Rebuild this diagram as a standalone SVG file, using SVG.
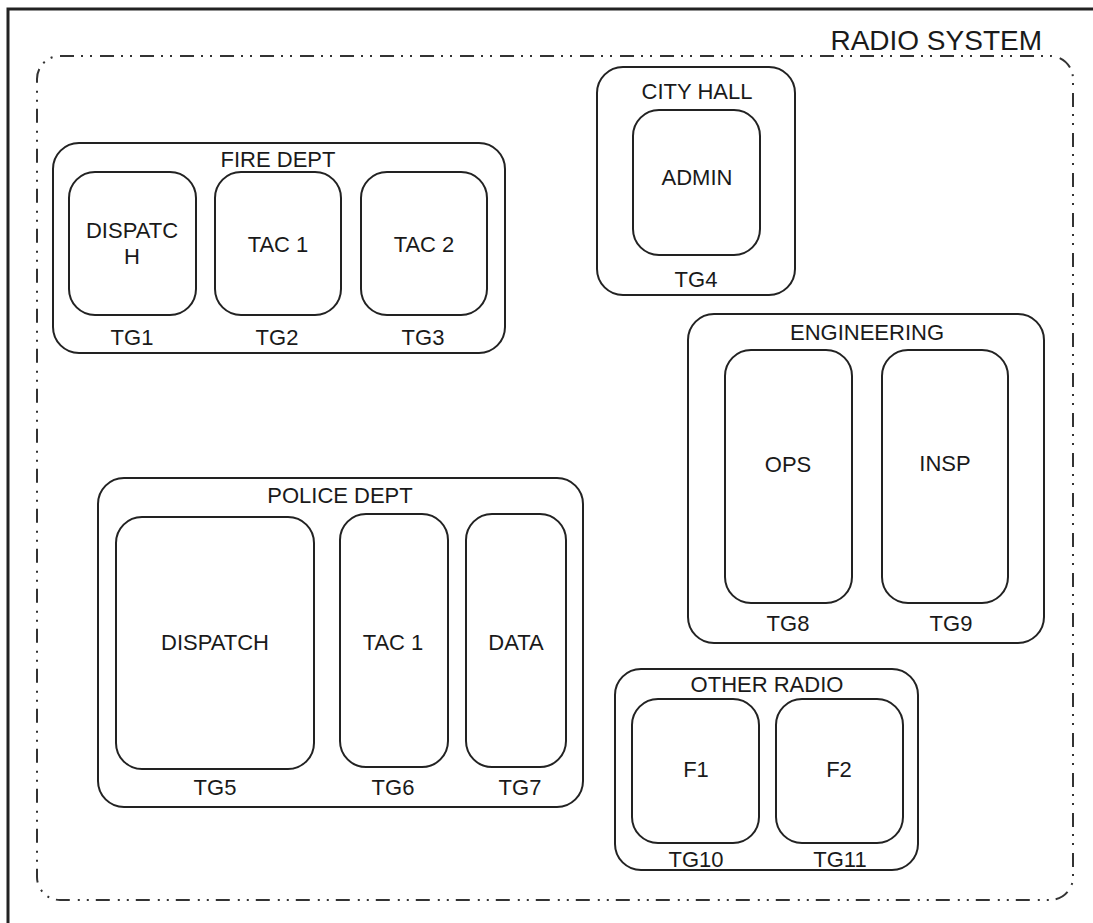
<svg xmlns="http://www.w3.org/2000/svg" width="1093" height="923" viewBox="0 0 1093 923">
<style>
.box{fill:none;stroke:#222;stroke-width:2}
.t{font-family:"Liberation Sans",Arial,sans-serif;font-size:22px;fill:#1a1a1a;text-anchor:middle}
.title{font-family:"Liberation Sans",Arial,sans-serif;font-size:28px;fill:#1a1a1a;text-anchor:end}
.sys{fill:none;stroke:#333;stroke-width:2;stroke-dasharray:14 7 2 7 2 8}
</style>
<rect width="1093" height="923" fill="#fff"/>
<path d="M8 923 V9 H1093" fill="none" stroke="#222" stroke-width="3"/>
<g id="radio-system">
<rect class="sys" x="37" y="56" width="1036" height="844" rx="23"/>
<text class="title" x="1042" y="50">RADIO SYSTEM</text>
</g>
<g id="fire-dept">
<rect class="box" x="53" y="143" width="452" height="210" rx="26"/>
<text class="t" x="278" y="167">FIRE DEPT</text>
</g>
<g id="tg1">
<rect class="box" x="69" y="172" width="127" height="143" rx="26"/>
<text class="t" x="132" y="238">DISPATC</text>
<text class="t" x="132" y="264">H</text>
<text class="t" x="132" y="345">TG1</text>
</g>
<g id="tg2">
<rect class="box" x="215" y="172" width="126" height="143" rx="26"/>
<text class="t" x="278" y="252">TAC 1</text>
<text class="t" x="277" y="345">TG2</text>
</g>
<g id="tg3">
<rect class="box" x="361" y="172" width="126" height="143" rx="26"/>
<text class="t" x="424" y="252">TAC 2</text>
<text class="t" x="423" y="345">TG3</text>
</g>
<g id="city-hall">
<rect class="box" x="597" y="67" width="198" height="228" rx="26"/>
<text class="t" x="697" y="99">CITY HALL</text>
</g>
<g id="tg4">
<rect class="box" x="633" y="110" width="127" height="145" rx="26"/>
<text class="t" x="697" y="185">ADMIN</text>
<text class="t" x="696" y="287">TG4</text>
</g>
<g id="engineering">
<rect class="box" x="688" y="314" width="356" height="329" rx="26"/>
<text class="t" x="867" y="340">ENGINEERING</text>
</g>
<g id="tg8">
<rect class="box" x="725" y="350" width="127" height="253" rx="26"/>
<text class="t" x="788" y="472">OPS</text>
<text class="t" x="788" y="631">TG8</text>
</g>
<g id="tg9">
<rect class="box" x="882" y="350" width="126" height="253" rx="26"/>
<text class="t" x="945" y="471">INSP</text>
<text class="t" x="951" y="631">TG9</text>
</g>
<g id="police-dept">
<rect class="box" x="98" y="478" width="485" height="329" rx="26"/>
<text class="t" x="340" y="503">POLICE DEPT</text>
</g>
<g id="tg5">
<rect class="box" x="116" y="517" width="198" height="252" rx="26"/>
<text class="t" x="215" y="650">DISPATCH</text>
<text class="t" x="215" y="795">TG5</text>
</g>
<g id="tg6">
<rect class="box" x="340" y="514" width="108" height="253" rx="26"/>
<text class="t" x="393" y="650">TAC 1</text>
<text class="t" x="393" y="795">TG6</text>
</g>
<g id="tg7">
<rect class="box" x="466" y="514" width="100" height="253" rx="26"/>
<text class="t" x="516" y="650">DATA</text>
<text class="t" x="520" y="795">TG7</text>
</g>
<g id="other-radio">
<rect class="box" x="615" y="669" width="303" height="201" rx="26"/>
<text class="t" x="767" y="692">OTHER RADIO</text>
</g>
<g id="tg10">
<rect class="box" x="632" y="699" width="127" height="144" rx="26"/>
<text class="t" x="696" y="777">F1</text>
<text class="t" x="696" y="867">TG10</text>
</g>
<g id="tg11">
<rect class="box" x="776" y="699" width="127" height="144" rx="26"/>
<text class="t" x="839" y="777">F2</text>
<text class="t" x="840" y="867">TG11</text>
</g>
<g id="connectors"></g>
</svg>
